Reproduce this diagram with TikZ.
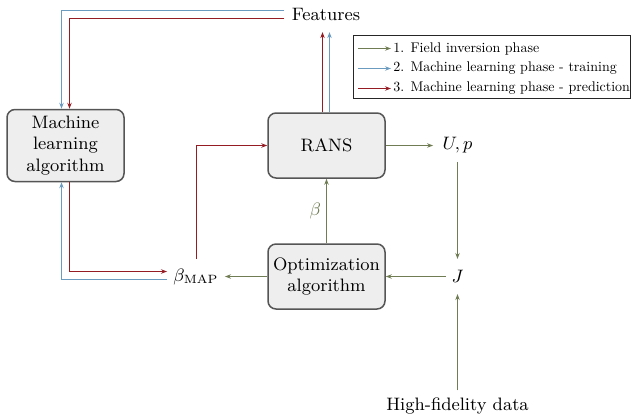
\documentclass[tikz,border=0pt]{standalone}
\usetikzlibrary{arrows.meta,calc}
\definecolor{olv}{RGB}{112,125,84}
\definecolor{blu}{RGB}{108,155,192}
\definecolor{rd}{RGB}{150,28,36}
\definecolor{boxfill}{RGB}{238,238,238}
\definecolor{boxdraw}{RGB}{85,85,85}
\newcommand{\lgtext}[1]{\scalebox{0.7}{\fontsize{10}{12}\selectfont #1}}
\begin{document}
\begin{tikzpicture}[x=0.5pt,y=-0.5pt,
  txt/.style={font=\fontsize{9}{10.6}\selectfont, inner sep=0pt},
  lg/.style={inner sep=0pt, anchor=west},
  blk/.style={txt, draw=boxdraw, fill=boxfill, line width=0.75pt, rounded corners=4pt, align=center, minimum width=58.5pt},
  tip/.style={-{Stealth[length=3pt,width=2.2pt]}},
  ol/.style={tip, draw=olv, line width=0.5pt},
  bl/.style={tip, draw=blu, line width=0.5pt},
  rdar/.style={tip, draw=rd, line width=0.5pt}]
\useasboundingbox (0,0) rectangle (636,414);

% nodes
\node[txt, inner xsep=3.5pt, inner ysep=5.5pt, anchor=base] (feat) at (326,20.5) {Features};
\node[blk, minimum height=36pt] (ml) at (65.5,145.5) {Machine\\learning\\algorithm};
\node[blk, minimum height=32.5pt] (rans) at (326.5,145.5) {RANS};
\node[blk, minimum height=32.5pt] (opt) at (326.5,276.5) {Optimization\\algorithm};
\node[txt, inner xsep=3pt, inner ysep=4.5pt] (bmap) at (196,276.5) {$\beta_{\mathrm{MAP}}$};
\node[txt, inner xsep=4.5pt, inner ysep=4pt] (up) at (457.5,145.5) {$U,p$};
\node[txt, inner xsep=2.5pt, inner ysep=5.5pt] (J) at (457.5,276.5) {$J$};
\node[txt, anchor=base, inner ysep=3.5pt] (hfd) at (457.5,410.5) {High-fidelity data};

% legend
\node[draw=black!85, line width=0.5pt, minimum width=138.5pt, minimum height=31.5pt, inner sep=0pt] (leg) at (491.5,66.5) {};
\node[lg] (l1) at (393,48.5) {\lgtext{1. Field inversion phase}};
\node[lg] (l2) at (393,68.5) {\lgtext{2. Machine learning phase - training}};
\node[lg] (l3) at (393,88.5) {\lgtext{3. Machine learning phase - prediction}};
\draw[ol] ([xshift=-17.5pt]l1.west) -- ([xshift=-1pt]l1.west);
\draw[bl] ([xshift=-17.5pt]l2.west) -- ([xshift=-1pt]l2.west);
\draw[rdar] ([xshift=-17.5pt]l3.west) -- ([xshift=-1pt]l3.west);

% field inversion (olive)
\draw[ol] (rans.east) -- (up.west);
\draw[ol] (up.south) -- (J.north);
\draw[ol] (hfd.north) -- (J.south);
\draw[ol] (J.west) -- (opt.east);
\draw[ol] (opt.west) -- (bmap.east);
\draw[ol] (opt.north) -- node[txt, left, inner xsep=2.5pt, text=olv] (betalbl) {$\beta$} (rans.south);

% RANS to features
\draw[rdar] ($(rans.north)+(-4,0)$) -- ($(rans.north |- feat.south)+(-4,0)$);
\draw[bl] ($(rans.north)+(3,0)$) -- ($(rans.north |- feat.south)+(3,0)$);

% features to ML
\draw[bl] ([yshift=2pt]feat.west) -| ([xshift=-2pt]ml.north);
\draw[rdar] ([yshift=-2pt]feat.west) -| ([xshift=2pt]ml.north);

% ML <-> beta_MAP
\draw[bl] ([yshift=-1.5pt]bmap.west) -| ([xshift=-2pt]ml.south);
\draw[rdar] ([xshift=2pt]ml.south) |- ([yshift=2.5pt]bmap.west);

% beta_MAP to RANS
\draw[rdar] (bmap.north) |- (rans.west);
\end{tikzpicture}
\end{document}
